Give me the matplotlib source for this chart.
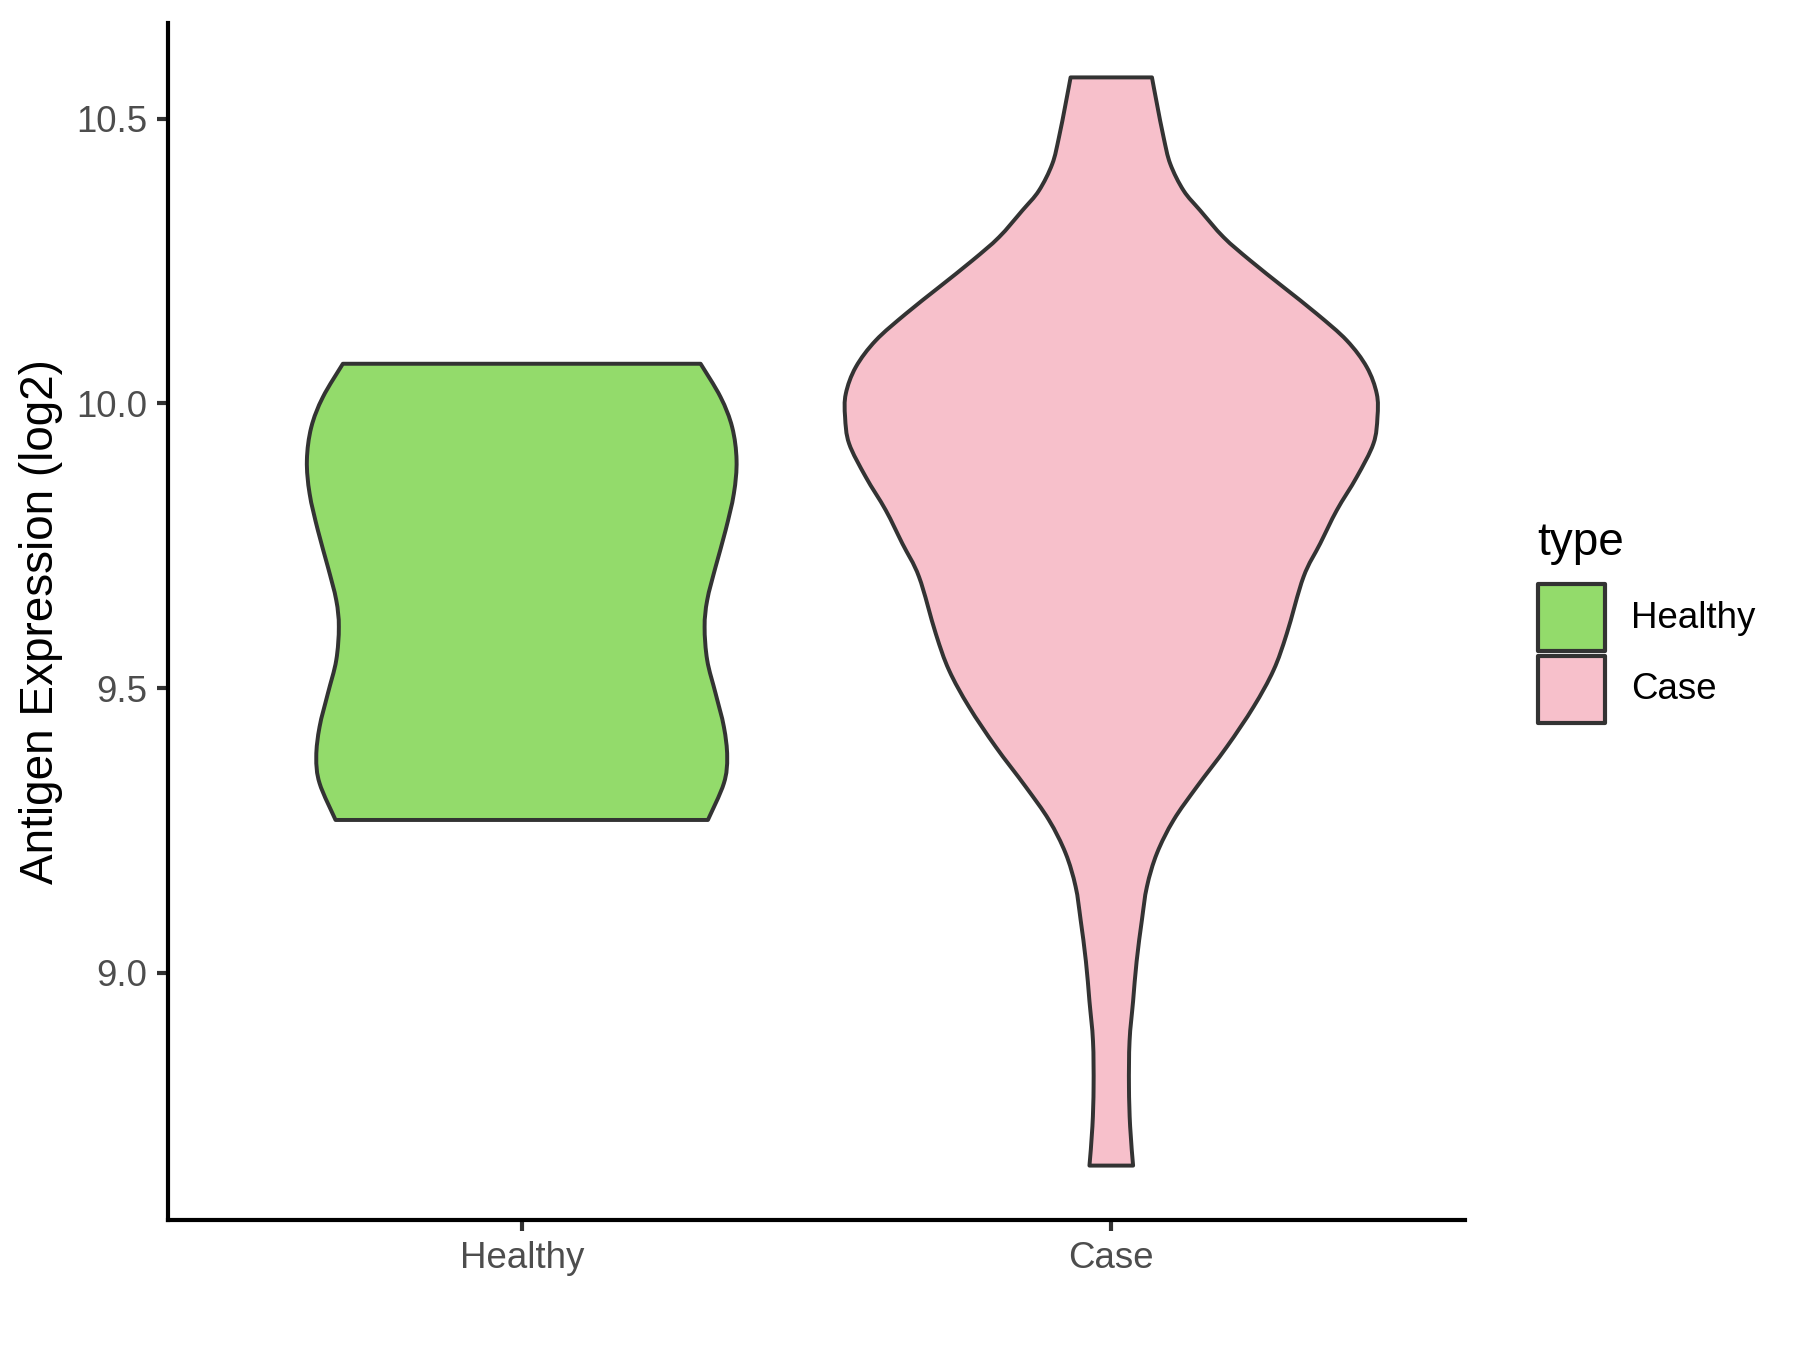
import matplotlib
matplotlib.use("Agg")
import matplotlib.pyplot as plt
from matplotlib.patches import Rectangle, PathPatch
from matplotlib.path import Path
import numpy as np

plt.rcParams['font.family'] = ['Liberation Sans', 'DejaVu Sans']

# ---------------- data ----------------
categories = ["Healthy", "Case"]
colors = {"Healthy": "#93DB6B", "Case": "#F7C0CB"}

# violin outlines: expression value (log2) and half-width of the density (category units)
healthy_y = [9.2684, 9.3328, 9.3795, 9.432, 9.4907, 9.549, 9.6076, 9.6544,
             9.7128, 9.7772, 9.8415, 9.900, 9.958, 10.011, 10.0696]
healthy_w = [0.3158, 0.3429, 0.3485, 0.3429, 0.3288, 0.3146, 0.3102, 0.3146,
             0.3288, 0.3458, 0.3598, 0.3644, 0.357, 0.3373, 0.3034]

case_y = [8.6614, 8.73, 8.80, 8.88, 8.95, 9.02, 9.093, 9.1514, 9.21, 9.2684,
          9.3269, 9.397, 9.4672, 9.5316, 9.596, 9.6953, 9.7539, 9.8123, 9.8707,
          9.9293, 9.976, 10.017, 10.0637, 10.1105, 10.1573, 10.204, 10.2509,
          10.2918, 10.3386, 10.3737, 10.4205, 10.467, 10.5258, 10.5725]
case_w = [0.037, 0.032, 0.030, 0.031, 0.037, 0.043, 0.052, 0.0605, 0.0775, 0.1058,
          0.1453, 0.1961, 0.2414, 0.2753, 0.2978, 0.3261, 0.3544, 0.3825, 0.4164,
          0.4447, 0.4515, 0.4503, 0.4334, 0.3995, 0.3486, 0.2922, 0.2357,
          0.1905, 0.151, 0.1227, 0.1001, 0.0888, 0.0775, 0.069]

y_ticks = [9.0, 9.5, 10.0, 10.5]
y_label = "Antigen Expression (log2)"
legend_title = "type"

violins = {"Healthy": (healthy_y, healthy_w), "Case": (case_y, case_w)}


def smooth_side(pts):
    """Cubic Bezier (Catmull-Rom) path segments through the given points."""
    verts, codes = [], []
    n = len(pts)
    for k in range(n - 1):
        p0 = pts[max(k - 1, 0)]
        p1 = pts[k]
        p2 = pts[k + 1]
        p3 = pts[min(k + 2, n - 1)]
        c1 = p1 + (p2 - p0) / 6.0
        c2 = p2 - (p3 - p1) / 6.0
        verts += [tuple(c1), tuple(c2), tuple(p2)]
        codes += [Path.CURVE4] * 3
    return verts, codes


def violin_path(pos, yy, ww):
    yy = np.asarray(yy, float)
    ww = np.asarray(ww, float)
    left = np.column_stack([pos - ww, yy])            # bottom -> top
    right = np.column_stack([pos + ww, yy])[::-1]     # top -> bottom
    verts = [tuple(left[0])]
    codes = [Path.MOVETO]
    v, c = smooth_side(left)
    verts += v; codes += c
    verts.append(tuple(right[0])); codes.append(Path.LINETO)
    v, c = smooth_side(right)
    verts += v; codes += c
    verts.append(tuple(left[0])); codes.append(Path.CLOSEPOLY)
    return Path(verts, codes)


# ---------------- figure ----------------
W, H = 1800, 1350
fig = plt.figure(figsize=(6, 4.5), dpi=300)
ax_l, ax_r, ax_t, ax_b = 168, 1465, 23, 1220
ax = fig.add_axes([ax_l / W, 1 - ax_b / H, (ax_r - ax_l) / W, (ax_b - ax_t) / H])

edge = "#333333"
for i, cat in enumerate(categories):
    yy, ww = violins[cat]
    patch = PathPatch(violin_path(i + 1, yy, ww), facecolor=colors[cat],
                      edgecolor=edge, linewidth=0.95, joinstyle="round")
    ax.add_patch(patch)

all_y = np.concatenate([healthy_y, case_y])
lo, hi = all_y.min(), all_y.max()
pad = 0.05 * (hi - lo)
ax.set_ylim(lo - pad, hi + pad)
ax.set_xlim(0.4, 2.6)

ax.set_xticks([1, 2])
ax.set_xticklabels(categories)
ax.set_yticks(y_ticks)
ax.set_yticklabels([f"{v:.1f}" for v in y_ticks])

for s in ["top", "right"]:
    ax.spines[s].set_visible(False)
for s in ["left", "bottom"]:
    ax.spines[s].set_linewidth(1.0)
    ax.spines[s].set_color("black")
    ax.spines[s].set_capstyle("projecting")

ax.tick_params(axis="both", length=2.75, width=1.0, color="#333333",
               labelsize=8.8, labelcolor="#4D4D4D", pad=2.2)

fig.text(41 / W, 1 - 621.6 / H, y_label, rotation=90, ha="center", va="center",
         fontsize=11, color="black")

# ---------------- legend ----------------
lax = fig.add_axes([0, 0, 1, 1])
lax.set_xlim(0, W)
lax.set_ylim(H, 0)
lax.axis("off")
lax.text(1537, 555, legend_title, fontsize=11, ha="left", va="baseline", color="black")
key_tops = [584, 655.5]
for cat, top in zip(categories, key_tops):
    lax.add_patch(Rectangle((1538, top), 67, 67, facecolor=colors[cat],
                            edgecolor=edge, linewidth=1.0, joinstyle="round"))
    lax.text(1631, top + 34, cat, fontsize=8.8, ha="left", va="center", color="black")

fig.savefig("out.png", dpi=300)
